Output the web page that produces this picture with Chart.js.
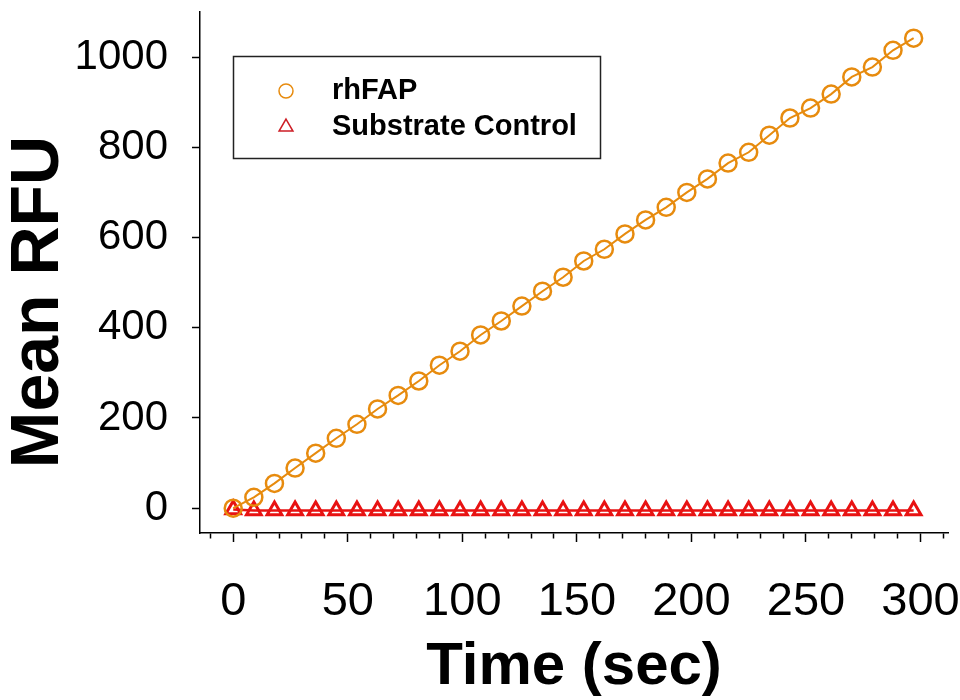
<!DOCTYPE html>
<html>
<head>
<meta charset="utf-8">
<script src="https://cdn.jsdelivr.net/npm/chart.js@4.4.0/dist/chart.umd.min.js"></script>
<style>
  html, body { margin: 0; padding: 0; background: #fff; }
  #wrap { width: 960px; height: 700px; }
</style>
</head>
<body>
<div id="wrap"><canvas id="kinetics" width="960" height="700"></canvas></div>
<script>
// ── Data ──
const timeSec = [0, 9, 18, 27, 36, 45, 54, 63, 72, 81, 90, 99, 108, 117, 126, 135, 144,
  153, 162, 171, 180, 189, 198, 207, 216, 225, 234, 243, 252, 261, 270, 279, 288, 297];
const rhFAP = [0, 24, 55, 89, 122, 155, 186, 220, 250, 282, 317, 348, 384, 415, 448, 481, 512,
  548, 574, 608, 639, 667, 700, 730, 765, 789, 827, 865, 887, 918, 956, 978, 1015, 1042];
const substrateControl = [-3, -5, -5, -5, -5, -5, -5, -5, -5, -5, -5, -5, -5, -5, -5, -5, -5,
  -5, -5, -5, -5, -5, -5, -5, -5, -5, -5, -5, -5, -5, -5, -5, -5, -5];

const xMajorTicks = [0, 50, 100, 150, 200, 250, 300];
const xMinorTicks = [-10, 0, 10, 20, 30, 40, 50, 60, 70, 80, 90, 100, 110, 120, 130, 140, 150,
  160, 170, 180, 190, 200, 210, 220, 230, 240, 250, 260, 270, 280, 290, 300, 310];
const yTicks = [0, 200, 400, 600, 800, 1000];

const ORANGE = 'rgb(231,139,14)';
const RED = 'rgb(232,18,18)';
const FONT = "'Liberation Sans', Arial, sans-serif";

// ── y title drawn by hand so it can sit off-centre like the original ──
const yTitlePlugin = {
  id: 'yTitle',
  afterDraw(chart) {
    const ctx = chart.ctx;
    ctx.save();
    ctx.translate(39, 302);
    ctx.rotate(-Math.PI / 2);
    ctx.font = `bold 68px ${FONT}`;
    ctx.fillStyle = '#000';
    ctx.textAlign = 'center';
    ctx.textBaseline = 'middle';
    ctx.fillText('Mean RFU', 0, 0);
    ctx.restore();
  }
};

// ── boxed legend inside the plot ──
const boxLegendPlugin = {
  id: 'boxLegend',
  afterDraw(chart) {
    const ctx = chart.ctx;
    ctx.save();
    ctx.strokeStyle = '#222';
    ctx.lineWidth = 1.5;
    ctx.strokeRect(233.5, 56.5, 367, 102);

    const rows = [
      { ds: chart.data.datasets[0], y: 91, color: ORANGE, r: 7 },
      { ds: chart.data.datasets[1], y: 127, color: 'rgb(205,30,38)', r: 8 },
    ];
    rows.forEach(row => {
      ctx.strokeStyle = row.color;
      ctx.fillStyle = 'rgba(0,0,0,0)';
      Chart.helpers.drawPoint(ctx, {
        pointStyle: row.ds.pointStyle, radius: row.r, rotation: 0, borderWidth: 2
      }, 286, row.y);
      ctx.fillStyle = '#000';
      ctx.font = `bold 29px ${FONT}`;
      ctx.textAlign = 'left';
      ctx.textBaseline = 'middle';
      ctx.fillText(row.ds.label, 332, row.y);
    });
    ctx.restore();
  }
};

const isMajor = v => xMajorTicks.includes(v);

new Chart(document.getElementById('kinetics'), {
  type: 'line',
  data: {
    labels: timeSec,
    datasets: [
      {
        label: 'rhFAP',
        data: timeSec.map((t, i) => ({ x: t, y: rhFAP[i] })),
        borderColor: ORANGE,
        borderWidth: 2,
        pointStyle: 'circle',
        pointRadius: 8.5,
        pointBorderWidth: 2.5,
        pointBorderColor: ORANGE,
        pointBackgroundColor: 'rgba(0,0,0,0)',
        tension: 0,
        fill: false,
      },
      {
        label: 'Substrate Control',
        data: timeSec.map((t, i) => ({ x: t, y: substrateControl[i] })),
        borderColor: RED,
        borderWidth: 2.5,
        pointStyle: 'triangle',
        pointRadius: 8.5,
        pointBorderWidth: 3,
        pointBorderColor: RED,
        pointBackgroundColor: 'rgba(0,0,0,0)',
        tension: 0,
        fill: false,
      },
    ],
  },
  options: {
    responsive: false,
    animation: false,
    layout: { padding: { left: 0, top: 12, right: 12, bottom: 0 } },
    plugins: {
      legend: { display: false },
      tooltip: { enabled: false },
    },
    scales: {
      x: {
        type: 'linear',
        min: -14.5,
        max: 312,
        afterBuildTicks: scale => { scale.ticks = xMinorTicks.map(v => ({ value: v })); },
        afterFit: scale => {
          scale.height = 167;
          scale.paddingLeft = 0;
          scale.paddingRight = 0;
        },
        border: { display: true, color: '#000', width: 1.5 },
        grid: {
          drawOnChartArea: false,
          drawTicks: true,
          tickLength: 9,
          tickColor: '#000',
          tickWidth: 1.5,
          tickBorderDash: ctx => isMajor(ctx.tick.value) ? [] : [5, 100],
        },
        ticks: {
          autoSkip: false,
          maxRotation: 0,
          padding: 32,
          color: '#000',
          font: { family: FONT, size: 47 },
          callback: v => isMajor(v) ? String(v) : '',
        },
        title: {
          display: true,
          text: 'Time (sec)',
          color: '#000',
          font: { family: FONT, size: 60, weight: 'bold', lineHeight: 1.1 },
          padding: 0,
        },
      },
      y: {
        type: 'linear',
        min: -55,
        max: 1100,
        afterBuildTicks: scale => { scale.ticks = yTicks.map(v => ({ value: v })); },
        afterFit: scale => {
          scale.width = 200;
          scale.paddingTop = 0;
          scale.paddingBottom = 0;
        },
        border: { display: true, color: '#000', width: 1.5 },
        grid: {
          drawOnChartArea: false,
          drawTicks: true,
          tickLength: 8,
          tickColor: '#000',
          tickWidth: 1.5,
        },
        ticks: {
          padding: 24,
          color: '#000',
          font: { family: FONT, size: 42 },
          callback: v => String(v),
        },
      },
    },
  },
  plugins: [yTitlePlugin, boxLegendPlugin],
});
</script>
</body>
</html>
